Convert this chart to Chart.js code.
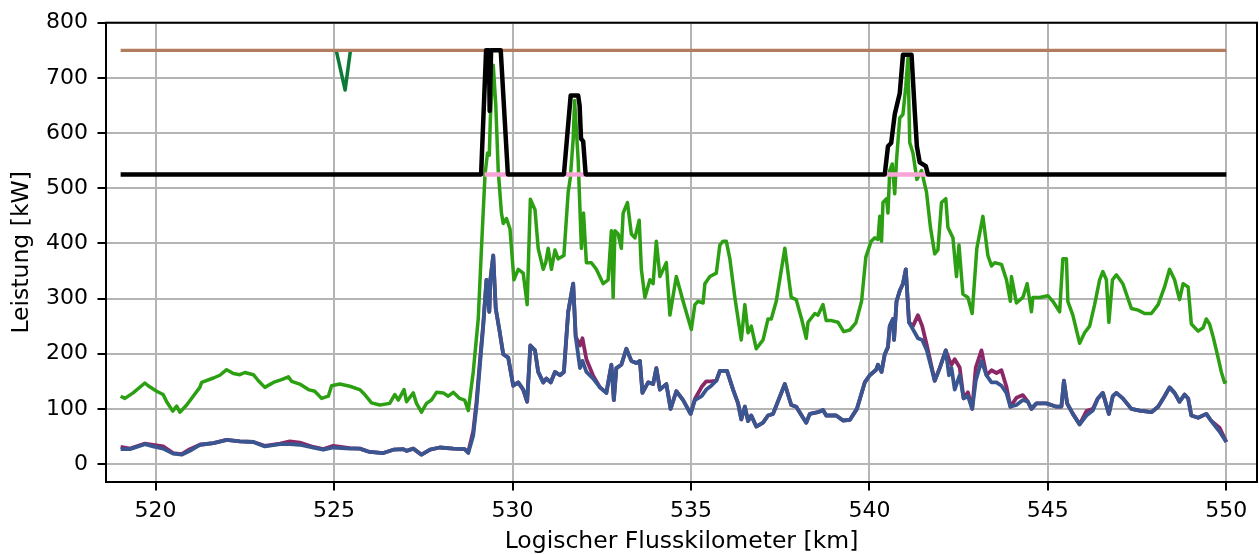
<!DOCTYPE html>
<html>
<head>
<meta charset="utf-8">
<script src="https://cdn.jsdelivr.net/npm/chart.js@4.4.1/dist/chart.umd.min.js"></script>
<style>
  body { margin: 0; background: #fff; }
</style>
</head>
<body>
<canvas id="myChart" width="1259" height="554"></canvas>
<script>
// Leistung entlang der Strecke (km / kW)
const greenKm = [519.02, 519.14, 519.37, 519.70, 519.79, 520.03, 520.21, 520.31, 520.48, 520.59, 520.68, 520.87,
  521.24, 521.29, 521.62, 521.80, 521.99, 522.18, 522.36, 522.50, 522.74, 522.88, 523.06, 523.30, 523.53, 523.72,
  523.81, 524.04, 524.28, 524.46, 524.65, 524.84, 524.93, 525.16, 525.44, 525.72, 525.86, 526.05, 526.28, 526.56,
  526.70, 526.80, 526.96, 527.03, 527.22, 527.31, 527.45, 527.59, 527.73, 527.87, 528.06, 528.20, 528.34, 528.52,
  528.66, 528.76, 528.90, 529.04, 529.13, 529.23, 529.30, 529.35, 529.38, 529.46, 529.53, 529.60, 529.69, 529.74,
  529.83, 529.93, 530.04, 530.16, 530.30, 530.41, 530.50, 530.63, 530.72, 530.86, 530.93, 531.00, 531.09, 531.19,
  531.28, 531.44, 531.56, 531.62, 531.70, 531.74, 531.84, 531.93, 531.99, 532.07, 532.21, 532.35, 532.54, 532.68,
  532.77, 532.82, 532.87, 532.96, 533.05, 533.10, 533.22, 533.33, 533.43, 533.55, 533.61, 533.71, 533.85, 533.94,
  534.03, 534.13, 534.31, 534.41, 534.59, 534.78, 535.01, 535.11, 535.20, 535.34, 535.39, 535.53, 535.71, 535.81,
  535.90, 535.99, 536.09, 536.23, 536.41, 536.51, 536.60, 536.69, 536.83, 537.02, 537.16, 537.25, 537.39, 537.63,
  537.81, 537.95, 538.10, 538.23, 538.28, 538.47, 538.56, 538.70, 538.79, 538.94, 539.12, 539.28, 539.45, 539.62,
  539.78, 539.90, 540.05, 540.15, 540.24, 540.29, 540.34, 540.38, 540.48, 540.52, 540.57, 540.64, 540.71, 540.76,
  540.85, 540.94, 541.02, 541.08, 541.13, 541.22, 541.33, 541.46, 541.60, 541.71, 541.83, 541.92, 542.02, 542.14,
  542.20, 542.34, 542.44, 542.51, 542.62, 542.76, 542.88, 543.01, 543.18, 543.32, 543.42, 543.51, 543.70, 543.84,
  543.95, 543.98, 544.12, 544.30, 544.42, 544.54, 544.58, 544.77, 545.00, 545.14, 545.33, 545.42, 545.52, 545.56,
  545.70, 545.89, 546.03, 546.17, 546.31, 546.45, 546.54, 546.64, 546.71, 546.81, 546.92, 547.10, 547.34, 547.53,
  547.71, 547.90, 548.09, 548.27, 548.41, 548.55, 548.69, 548.79, 548.93, 549.02, 549.21, 549.35, 549.44, 549.53,
  549.63, 549.77, 549.86, 549.95, 550.00];
const greenKw = [123, 119, 129, 147, 142, 132, 126, 113, 96, 105, 94, 107,
  139, 148, 156, 161, 171, 164, 162, 166, 162, 151, 139, 148, 153, 158,
  150, 145, 135, 132, 119, 123, 142, 145, 141, 135, 126, 111, 107, 110,
  126, 116, 135, 113, 129, 110, 94, 110, 116, 130, 129, 123, 130, 119,
  116, 97, 167, 263, 391, 525, 564, 560, 627, 723, 653, 532, 455, 436,
  445, 426, 334, 353, 346, 289, 480, 461, 391, 353, 365, 391, 353, 388,
  372, 378, 493, 519, 589, 659, 551, 391, 455, 365, 365, 353, 327, 334,
  423, 302, 423, 417, 391, 455, 474, 417, 410, 442, 353, 302, 334, 327,
  404, 340, 365, 270, 340, 295, 244, 289, 295, 292, 327, 340, 346, 397,
  404, 404, 372, 302, 225, 289, 238, 250, 209, 225, 263, 263, 295, 391,
  302, 298, 263, 228, 257, 273, 270, 289, 260, 260, 257, 240, 243, 256,
  295, 375, 404, 410, 407, 449, 404, 474, 481, 455, 532, 544, 490, 551,
  627, 634, 685, 736, 583, 564, 516, 532, 493, 429, 381, 388, 474, 481,
  429, 410, 340, 397, 308, 302, 273, 391, 449, 378, 359, 365, 362, 334,
  295, 340, 292, 302, 327, 276, 302, 302, 305, 295, 276, 372, 372, 295,
  270, 219, 238, 250, 289, 334, 349, 334, 257, 334, 343, 327, 282, 279,
  273, 273, 289, 321, 353, 334, 298, 327, 321, 254, 241, 247, 263, 254,
  231, 193, 167, 148, 151];

const blueKm = [519.02, 519.28, 519.70, 519.93, 520.21, 520.49, 520.73, 520.96, 521.24, 521.62, 521.99, 522.36,
  522.74, 523.06, 523.49, 523.76, 524.04, 524.42, 524.70, 524.98, 525.44, 525.72, 526.00, 526.38, 526.66, 526.94,
  527.03, 527.22, 527.45, 527.69, 527.96, 528.34, 528.66, 528.76, 528.90, 528.99, 529.08, 529.18, 529.27, 529.35,
  529.38, 529.46, 529.53, 529.63, 529.74, 529.88, 530.02, 530.16, 530.30, 530.41, 530.50, 530.63, 530.72, 530.86,
  530.95, 531.07, 531.19, 531.33, 531.44, 531.56, 531.70, 531.77, 531.89, 531.96, 532.07, 532.26, 532.45, 532.63,
  532.77, 532.84, 532.91, 533.05, 533.19, 533.33, 533.47, 533.57, 533.64, 533.80, 533.94, 534.03, 534.13, 534.31,
  534.43, 534.59, 534.78, 534.99, 535.11, 535.30, 535.43, 535.57, 535.71, 535.81, 536.01, 536.18, 536.32, 536.41,
  536.51, 536.60, 536.69, 536.83, 537.02, 537.16, 537.30, 537.63, 537.81, 537.95, 538.14, 538.23, 538.33, 538.56,
  538.70, 538.79, 539.07, 539.26, 539.45, 539.65, 539.87, 540.01, 540.19, 540.24, 540.34, 540.43, 540.52, 540.57,
  540.66, 540.69, 540.76, 540.85, 540.94, 541.02, 541.11, 541.22, 541.36, 541.48, 541.61, 541.83, 541.97, 542.14,
  542.23, 542.30, 542.39, 542.53, 542.64, 542.76, 542.88, 542.98, 543.14, 543.28, 543.42, 543.56, 543.70, 543.84,
  543.95, 544.12, 544.30, 544.44, 544.54, 544.68, 544.96, 545.24, 545.38, 545.45, 545.54, 545.70, 545.89, 546.08,
  546.26, 546.40, 546.54, 546.71, 546.82, 546.92, 547.10, 547.34, 547.57, 547.90, 548.09, 548.27, 548.41, 548.55,
  548.69, 548.83, 548.93, 549.02, 549.21, 549.44, 549.58, 549.81, 550.00];
const blueKw = [27, 27, 36, 32, 28, 19, 17, 24, 35, 38, 44, 41,
  40, 32, 36, 36, 35, 30, 26, 30, 28, 28, 22, 20, 26, 27,
  24, 28, 17, 26, 30, 28, 27, 20, 52, 104, 174, 250, 334, 276,
  334, 378, 282, 244, 199, 193, 142, 148, 135, 113, 215, 206, 167, 148,
  155, 148, 167, 161, 167, 276, 327, 231, 174, 187, 167, 155, 139, 129,
  180, 116, 174, 180, 209, 187, 183, 187, 129, 148, 145, 174, 135, 145,
  100, 132, 116, 91, 116, 123, 135, 142, 151, 169, 169, 135, 110, 81,
  104, 78, 88, 68, 75, 88, 91, 145, 107, 104, 84, 75, 91, 94,
  98, 88, 88, 79, 80, 100, 148, 161, 171, 180, 167, 199, 212, 250,
  263, 225, 295, 314, 327, 353, 257, 244, 228, 225, 206, 151, 174, 206,
  161, 174, 135, 161, 119, 123, 100, 151, 187, 161, 148, 148, 142, 129,
  104, 107, 116, 113, 100, 110, 110, 104, 104, 151, 110, 91, 72, 88,
  97, 119, 129, 91, 123, 129, 119, 100, 97, 94, 104, 123, 139, 129,
  113, 126, 119, 88, 84, 91, 78, 59, 40];
// zweite Kurve (lila), gleiche Stützstellen wie blau
const purpleKw = [31, 28, 37, 35, 32, 20, 18, 27, 35, 38, 44, 41,
  40, 33, 37, 41, 39, 31, 27, 33, 29, 28, 22, 20, 26, 27,
  24, 28, 17, 26, 30, 28, 27, 22, 60, 112, 182, 254, 334, 276,
  334, 378, 282, 244, 199, 193, 142, 148, 135, 113, 215, 206, 167, 148,
  155, 148, 167, 161, 167, 276, 327, 231, 215, 228, 190, 160, 139, 129,
  180, 116, 174, 180, 209, 187, 183, 187, 129, 148, 145, 174, 135, 145,
  100, 132, 116, 91, 118, 140, 150, 150, 151, 169, 169, 135, 110, 81,
  104, 78, 88, 68, 75, 88, 91, 145, 107, 104, 84, 75, 91, 94,
  98, 88, 88, 79, 80, 100, 148, 161, 171, 180, 167, 199, 212, 250,
  263, 225, 295, 314, 327, 353, 257, 250, 270, 250, 215, 151, 174, 206,
  190, 180, 190, 175, 119, 130, 100, 175, 206, 161, 170, 165, 170, 140,
  104, 120, 125, 113, 100, 110, 110, 104, 104, 151, 110, 91, 72, 96,
  100, 119, 129, 91, 123, 129, 119, 100, 97, 94, 104, 123, 139, 129,
  113, 126, 119, 88, 84, 91, 78, 66, 40];

const blackKm = [519.02, 529.12, 529.26, 529.34, 529.36, 529.40, 529.67, 529.87, 531.44, 531.63, 531.84, 531.88,
  531.92, 531.98, 532.05, 540.43, 540.52, 540.61, 540.71, 540.85, 540.94, 541.18, 541.27, 541.33, 541.41, 541.58,
  541.64, 550.00];
const blackKw = [525, 525, 750, 750, 640, 750, 750, 525, 525, 668, 668, 650,
  590, 585, 525, 525, 576, 582, 634, 672, 742, 742, 640, 576, 547, 540,
  525, 525];

const pinkKm = [529.22, 529.85, 529.86, 531.50, 532.02, 532.03, 540.50, 541.62];
const pinkKw = [525, 525, null, 525, 525, null, 525, 525];

const brownKm = [519.02, 550.00];
const brownKw = [750, 750];

const darkKm = [525.06, 525.31, 525.46];
const darkKw = [750, 678, 750];

const xTicks = [520, 525, 530, 535, 540, 545, 550];

function pts(xs, ys) {
  return xs.map((x, i) => ({ x: x, y: ys[i] }));
}

function line(data, color, width, order) {
  return {
    data: data,
    borderColor: color,
    borderWidth: width,
    pointRadius: 0,
    tension: 0,
    fill: false,
    spanGaps: false,
    borderJoinStyle: 'round',
    order: order,
  };
}

// Rahmen wie bei matplotlib (alle vier Seiten)
const frame = {
  id: 'frame',
  afterDraw(chart) {
    const a = chart.chartArea;
    const c = chart.ctx;
    c.save();
    c.strokeStyle = '#000';
    c.lineWidth = 2;
    c.strokeRect(a.left, a.top, a.right - a.left, a.bottom - a.top);
    c.restore();
  },
};

Chart.defaults.font.family = 'DejaVu Sans';
Chart.defaults.font.size = 22;
Chart.defaults.color = '#000';

const gridOpts = { color: '#b4b4b4', lineWidth: 2, tickColor: '#000', tickLength: 8.5, tickWidth: 2 };

new Chart(document.getElementById('myChart'), {
  type: 'line',
  data: {
    datasets: [
      line(pts(darkKm, darkKw), '#0b7a36', 3.5, 8),
      line(pts(brownKm, brownKw), '#b27d5e', 3.2, 7),
      line(pts(greenKm, greenKw), '#2ca012', 3.5, 6),
      line(pts(blueKm, purpleKw), '#8b2766', 3.8, 5),
      line(pts(blueKm, blueKw), '#3a5690', 3.8, 4),
      line(pts(pinkKm, pinkKw), '#f7a4d6', 4.5, 3),
      line(pts(blackKm, blackKw), '#000000', 4.5, 2),
    ],
  },
  options: {
    responsive: false,
    animation: false,
    devicePixelRatio: 1,
    layout: { padding: { top: 21, right: 2, left: 0, bottom: 0 } },
    plugins: { legend: { display: false }, tooltip: { enabled: false } },
    scales: {
      x: {
        type: 'linear',
        min: 518.61,
        max: 550.86,
        afterFit: (s) => { s.height = 72; },
        afterBuildTicks: (s) => { s.ticks = xTicks.map((v) => ({ value: v })); },
        ticks: { padding: 8, maxRotation: 0, callback: (v) => v },
        grid: gridOpts,
        border: { display: false },
        title: {
          display: true,
          text: 'Logischer Flusskilometer [km]',
          font: { size: 23.5 },
          padding: { top: 0, bottom: -2 },
        },
      },
      y: {
        min: -32.5,
        max: 800,
        afterFit: (s) => { s.width = 106; },
        ticks: { stepSize: 100, includeBounds: false, padding: 9.5 },
        grid: gridOpts,
        border: { display: false },
        title: { display: true, text: 'Leistung [kW]', font: { size: 23.5 }, padding: { top: 8, bottom: 0 } },
      },
    },
  },
  plugins: [frame],
});
</script>
</body>
</html>
